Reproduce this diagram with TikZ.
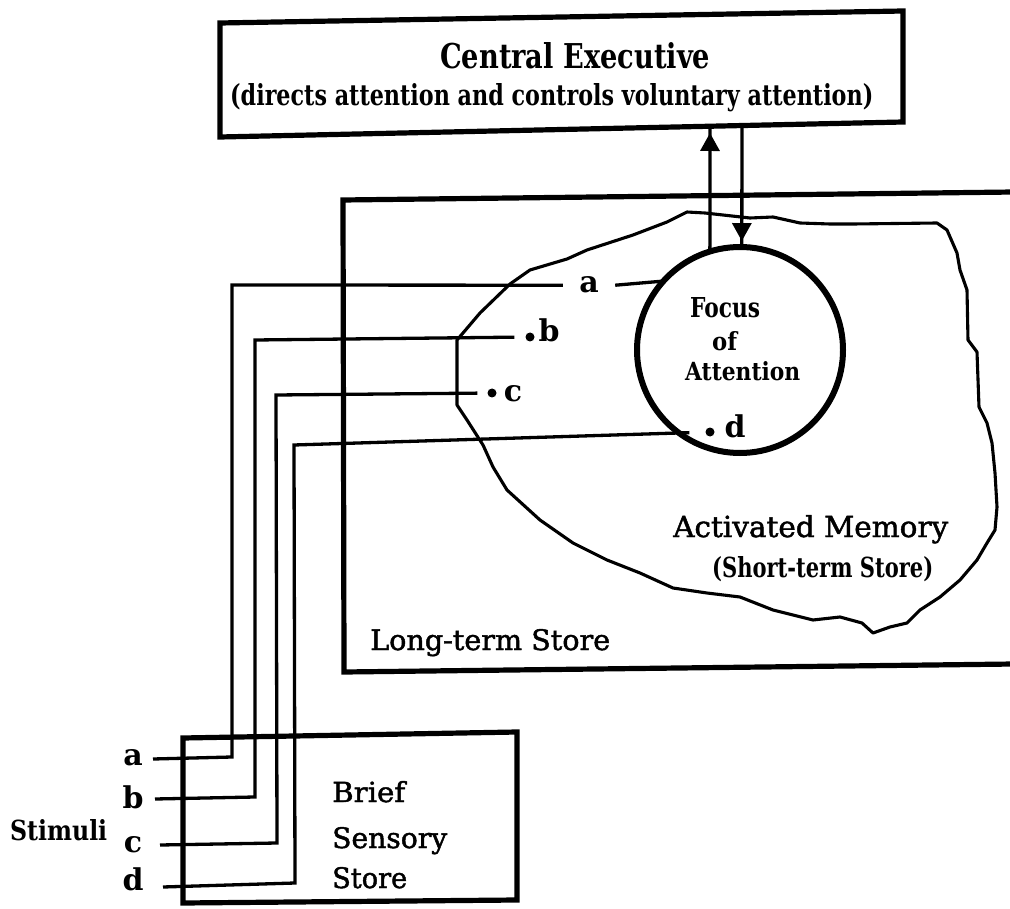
\documentclass[tikz,border=0pt]{standalone}
\usepackage{fontspec}
\setmainfont{DejaVu Serif}
\newfontfamily\semib{DejaVu Serif}[FakeBold=1.6]
\usetikzlibrary{arrows.meta,decorations.markings}
\newcommand{\fitto}[3]{\resizebox{#1}{#2}{#3}}
\tikzset{
  boxline/.style={line width=5.2pt, line join=miter},
  conn/.style={line width=3.3pt, line join=miter},
  blobline/.style={line width=3.1pt, line join=round},
  focusring/.style={circle, draw, line width=6pt, minimum size=206pt, inner sep=0pt, outer sep=0pt},
  dot/.style={circle, fill, inner sep=0pt, minimum size=9pt},
  lab/.style={inner sep=0pt, anchor=base, font=\fontsize{30}{32}\selectfont\bfseries},
  txt/.style={inner sep=0pt, anchor=base west},
  tipmark/.style={postaction={decorate}, decoration={markings,
     mark=at position #1 with {\arrow{Triangle[width=19pt,length=18pt]}}}},
}
\begin{document}
\begin{tikzpicture}[x=1pt,y=-1pt]
\useasboundingbox (0,0) rectangle (1010,909);

% ---------------- Central Executive box
\coordinate (ceTL) at (220,23);
\coordinate (ceTR) at (903,11);
\coordinate (ceBR) at (903,122);
\coordinate (ceBL) at (220,137);
\draw[boxline] (ceTL) -- (ceTR) -- (ceBR) -- (ceBL) -- cycle;
\node[txt] (cetitle) at (440,69) {\fitto{270pt}{26pt}{\bfseries Central Executive}};
\node[txt] (cesub) at (230,106) {\fitto{643pt}{22pt}{\bfseries (directs attention and controls voluntary attention)}};

% ---------------- Long-term store (open to the right)
\coordinate (ltTR) at (1014,192);
\coordinate (ltTL) at (343,200);
\coordinate (ltBL) at (344,672);
\coordinate (ltBR) at (1014,664);
\draw[boxline] (ltTR) -- (ltTL) -- (ltBL) -- (ltBR);
\node[txt] (ltm) at (370,650) {\fitto{240pt}{21pt}{\semib Long-term Store}};

% ---------------- Activated memory outline
\draw[blobline] (510,284) -- (530,270) -- (567,259) -- (587,250) -- (633,235) -- (667,222)
  -- (687,212) -- (705,213) -- (750,218) -- (773,217) -- (800,223) -- (830,224) -- (853,224)
  -- (937,223) -- (947,230) -- (957,253) -- (960,270) -- (967,290) -- (968,340) -- (977,352)
  -- (979,407) -- (987,423) -- (992,443) -- (995,473) -- (997,507) -- (995,530) -- (987,543)
  -- (977,560) -- (960,580) -- (940,597) -- (920,610) -- (907,623) -- (890,627) -- (873,633)
  -- (862,623) -- (840,617) -- (813,620) -- (773,610) -- (740,597) -- (707,593) -- (673,588)
  -- (640,573) -- (607,560) -- (573,543) -- (540,520) -- (507,490) -- (493,467) -- (483,445)
  -- (467,420) -- (457,405) -- (457,340) -- (463,333) -- (480,313) -- cycle;
\node[txt] (actm) at (673,537) {\fitto{275pt}{22pt}{\semib Activated Memory}};
\node[txt] (stsm) at (712,577) {\fitto{221pt}{21pt}{\bfseries (Short-term Store)}};

% ---------------- Focus of attention
\node[focusring] (foc) at (740,350) {};
\node[txt] (f1) at (690,318) {\fitto{70pt}{20pt}{\bfseries Focus}};
\node[txt] (f2) at (712,351) {\fitto{25pt}{19pt}{\bfseries of}};
\node[txt] (f3) at (685,381) {\fitto{115pt}{19pt}{\bfseries Attention}};

% ---------------- arrows between focus and central executive
\coordinate (ceU) at (710,126);
\coordinate (ceD) at (742,125.5);
\draw[conn, tipmark=-7pt] (foc.107) -- (ceU);
\draw[conn, tipmark=-6pt] (ceD) -- (foc.89);

% ---------------- Brief sensory store
\coordinate (ssTL) at (183,738);
\coordinate (ssTR) at (517,732);
\coordinate (ssBR) at (517,900);
\coordinate (ssBL) at (183,903);
\draw[boxline] (ssTL) -- (ssTR) -- (ssBR) -- (ssBL) -- cycle;
\node[txt] (bss1) at (332,802) {\fitto{73pt}{21pt}{\semib Brief}};
\node[txt] (bss2) at (332,848) {\fitto{115pt}{21pt}{\semib Sensory}};
\node[txt] (bss3) at (332,888) {\fitto{75pt}{21pt}{\semib Store}};

% ---------------- stimuli labels
\node[txt] (stim) at (10,840) {\fitto{97pt}{21pt}{\bfseries Stimuli}};
\node[lab] (sa) at (133,765) {a};
\node[lab] (sb) at (133,808) {b};
\node[lab] (sc) at (133,852) {c};
\node[lab] (sd) at (133,890) {d};

% ---------------- memory items
\node[lab, minimum width=52pt] (la) at (589,293) {a};
\node[dot] (db) at (530,337) {};
\node[lab] (lb) at (549,342) {b};
\node[dot] (dc) at (492,393) {};
\node[lab] (lc) at (513,402) {c};
\node[dot] (dd) at (710,432) {};
\node[lab] (ld) at (735,437) {d};

% ---------------- connectors from the sensory store
\coordinate (ina) at (153,759);
\coordinate (a1) at (232,757);
\coordinate (a2) at (232,285);
\draw[conn] (ina) -- (a1) -- (a2) -- (la.west);
\draw[conn] (la.east) -- (foc.138);

\coordinate (inb) at (155,799);
\coordinate (b1) at (255,797);
\coordinate (b2) at (255,340);
\draw[conn, shorten >=11pt] (inb) -- (b1) -- (b2) -- (db);

\coordinate (inc) at (160,845);
\coordinate (c1) at (277,843);
\coordinate (c2) at (276,395);
\draw[conn, shorten >=10pt] (inc) -- (c1) -- (c2) -- (dc);

\coordinate (ind) at (163,887);
\coordinate (d1) at (295,883);
\coordinate (d2) at (294,445);
\draw[conn, shorten >=16pt] (ind) -- (d1) -- (d2) -- (dd);
\end{tikzpicture}
\end{document}
